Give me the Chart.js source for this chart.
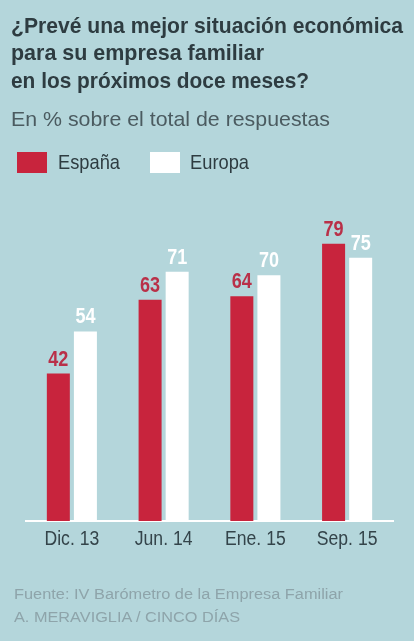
<!DOCTYPE html>
<html>
<head>
<meta charset="utf-8">
<script src="https://cdn.jsdelivr.net/npm/chart.js@4"></script>
<style>
  html, body { margin: 0; padding: 0; }
  body { width: 414px; height: 641px; background: #b4d6db; position: relative; overflow: hidden;
         font-family: "Liberation Sans", Arial, sans-serif; }
  #wrap { position: absolute; left: 0; top: 0; width: 414px; height: 641px; }
  .fit { position: absolute; white-space: nowrap; transform-origin: 0 0; }
  .title { font-weight: bold; font-size: 21.5px; color: #2e3c41; }
  .sub { font-size: 21px; color: #4b5b60; }
  .leg { font-size: 21px; color: #2e3c41; }
  .box { position: absolute; top: 152px; width: 30px; height: 21px; }
  .foot { font-size: 15.5px; color: #8ea4aa; }
</style>
</head>
<body>
<div id="wrap"><canvas id="chart" width="414" height="641"></canvas></div>
<div class="fit title" data-w="392" style="left:11px;top:14px">¿Prevé una mejor situación económica</div>
<div class="fit title" data-w="253" style="left:11px;top:41px">para su empresa familiar</div>
<div class="fit title" data-w="298" style="left:11px;top:69px">en los próximos doce meses?</div>
<div class="fit sub" data-w="319" style="left:11px;top:107px">En % sobre el total de respuestas</div>
<span class="box" style="left:17px;background:#c8243d"></span>
<div class="fit leg" data-w="62" style="left:58px;top:150px">España</div>
<span class="box" style="left:150px;background:#ffffff"></span>
<div class="fit leg" data-w="59" style="left:190px;top:150px">Europa</div>
<div class="fit foot" data-w="329" style="left:14px;top:585px">Fuente: IV Barómetro de la Empresa Familiar</div>
<div class="fit foot" data-w="226" style="left:14px;top:608px">A. MERAVIGLIA / CINCO DÍAS</div>

<script>
const categories = ['Dic. 13', 'Jun. 14', 'Ene. 15', 'Sep. 15'];
const espana = [42, 63, 64, 79];
const europa = [54, 71, 70, 75];

// estrechar los textos para imitar la fuente condensada
document.querySelectorAll('.fit').forEach(el => {
  const w = el.getBoundingClientRect().width;
  el.style.transform = 'scaleX(' + (el.dataset.w / w) + ')';
});

const FONT = '"Liberation Sans", Arial, sans-serif';

// numeros encima de las barras y etiquetas del eje x
const textPlugin = {
  id: 'textPlugin',
  afterDatasetsDraw(chart) {
    const ctx = chart.ctx;
    ctx.save();
    ctx.textAlign = 'center';
    ctx.textBaseline = 'alphabetic';
    ctx.font = 'bold 22px ' + FONT;
    chart.data.datasets.forEach((ds, i) => {
      ctx.fillStyle = ds.labelColor;
      chart.getDatasetMeta(i).data.forEach((bar, j) => {
        ctx.save();
        ctx.translate(bar.x, bar.y - 8);
        ctx.scale(0.82, 1);
        ctx.fillText(ds.data[j], 0, 0);
        ctx.restore();
      });
    });
    const xs = chart.scales.x;
    ctx.font = '20px ' + FONT;
    ctx.fillStyle = '#34444a';
    categories.forEach((c, i) => {
      ctx.save();
      ctx.translate(xs.getPixelForValue(i), chart.chartArea.bottom + 24);
      ctx.scale(0.88, 1);
      ctx.fillText(c, 0, 0);
      ctx.restore();
    });
    ctx.restore();
  }
};

new Chart(document.getElementById('chart'), {
  type: 'bar',
  data: {
    labels: categories,
    datasets: [
      { label: 'España', data: espana, backgroundColor: '#c8243d', labelColor: '#b93048' },
      { label: 'Europa', data: europa, backgroundColor: '#ffffff', labelColor: '#ffffff' }
    ]
  },
  options: {
    responsive: false,
    animation: false,
    devicePixelRatio: 1,
    datasets: { bar: { barPercentage: 0.85, categoryPercentage: 0.59 } },
    layout: { padding: { left: 26, right: 21, top: 170, bottom: 120 } },
    plugins: { legend: { display: false }, tooltip: { enabled: false } },
    scales: {
      x: {
        grid: { display: false, drawTicks: false },
        border: { display: true, color: '#ffffff', width: 2 },
        ticks: { display: false }
      },
      y: { display: false, min: 0, max: 100 }
    }
  },
  plugins: [textPlugin]
});
</script>
</body>
</html>
